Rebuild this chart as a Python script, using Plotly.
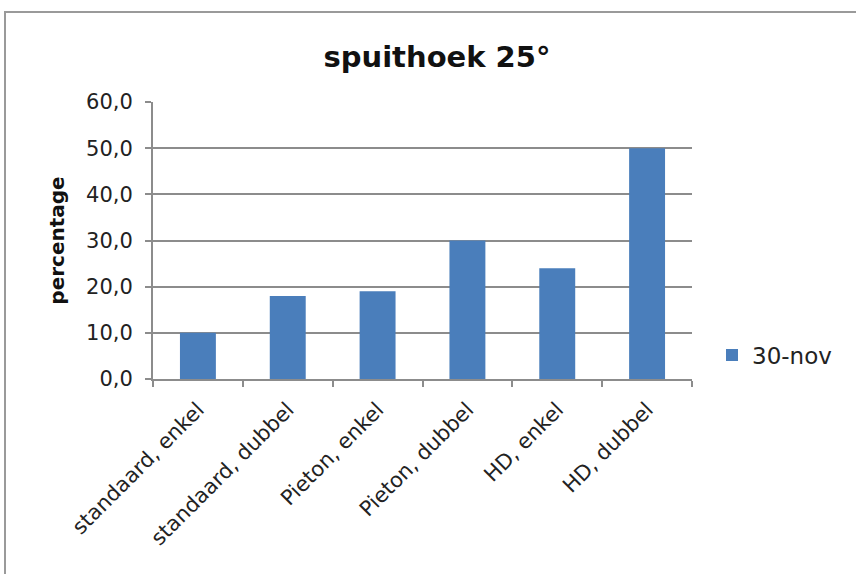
import plotly.graph_objects as go

categories = ["standaard, enkel", "standaard, dubbel", "Pieton, enkel",
              "Pieton, dubbel", "HD, enkel", "HD, dubbel"]
values = [10.0, 18.0, 19.0, 30.0, 24.0, 50.0]
series_name = "30-nov"
tick_vals = [0, 10, 20, 30, 40, 50, 60]
tick_text = ["0,0", "10,0", "20,0", "30,0", "40,0", "50,0", "60,0"]

W, H = 856, 574
L, R, T, B = 153, 164, 102, 195
pw, ph = W - L - R, H - T - B

def px_x(x):
    return (x - L) / pw

def px_y(y):
    return (H - B - y) / ph

font = "DejaVu Sans, Verdana, sans-serif"

fig = go.Figure()
fig.add_trace(go.Bar(x=categories, y=values, name=series_name,
                     marker=dict(color="#4a7ebb", line=dict(width=0)),
                     showlegend=True))

fig.update_layout(
    width=W, height=H,
    margin=dict(l=L, r=R, t=T, b=B),
    paper_bgcolor="white", plot_bgcolor="white",
    font=dict(family=font, color="#222", size=20),
    bargap=0.6,
    title=dict(text="<b>spuithoek 25°</b>", xref="container", x=437 / W,
               xanchor="center", yref="container", y=1 - 57 / H,
               yanchor="middle", font=dict(size=29, color="#111")),
    showlegend=True,
    legend=dict(x=px_x(712), xanchor="left", y=px_y(355), yanchor="middle",
                font=dict(size=23, color="#222"), itemwidth=30,
                bgcolor="rgba(0,0,0,0)"),
    xaxis=dict(showline=True, linecolor="#8c8c8c", linewidth=2,
               ticks="outside", tickson="boundaries", ticklen=6,
               tickcolor="#8c8c8c", tickwidth=1.5, tickangle=-45,
               ticklabelstandoff=8,
               tickfont=dict(size=21, color="#222"), showgrid=False),
    yaxis=dict(range=[0, 60], tickvals=tick_vals, ticktext=tick_text,
               showline=True, linecolor="#8c8c8c", linewidth=2,
               ticks="outside", ticklen=6, tickcolor="#8c8c8c", tickwidth=1.5,
               ticklabelstandoff=8,
               showgrid=True, gridcolor="#8c8c8c", gridwidth=1.5,
               zeroline=False,
               tickfont=dict(size=21, color="#222"),
               title=dict(text="<b>percentage</b>", standoff=16,
                          font=dict(size=20, color="#111"))),
)

# outer chart frame
fig.add_shape(type="rect", xref="paper", yref="paper",
              x0=px_x(5), x1=px_x(900), y0=px_y(600), y1=px_y(12),
              line=dict(color="#9a9a9a", width=2), fillcolor="rgba(0,0,0,0)",
              layer="below")

fig.write_html("out.html")
